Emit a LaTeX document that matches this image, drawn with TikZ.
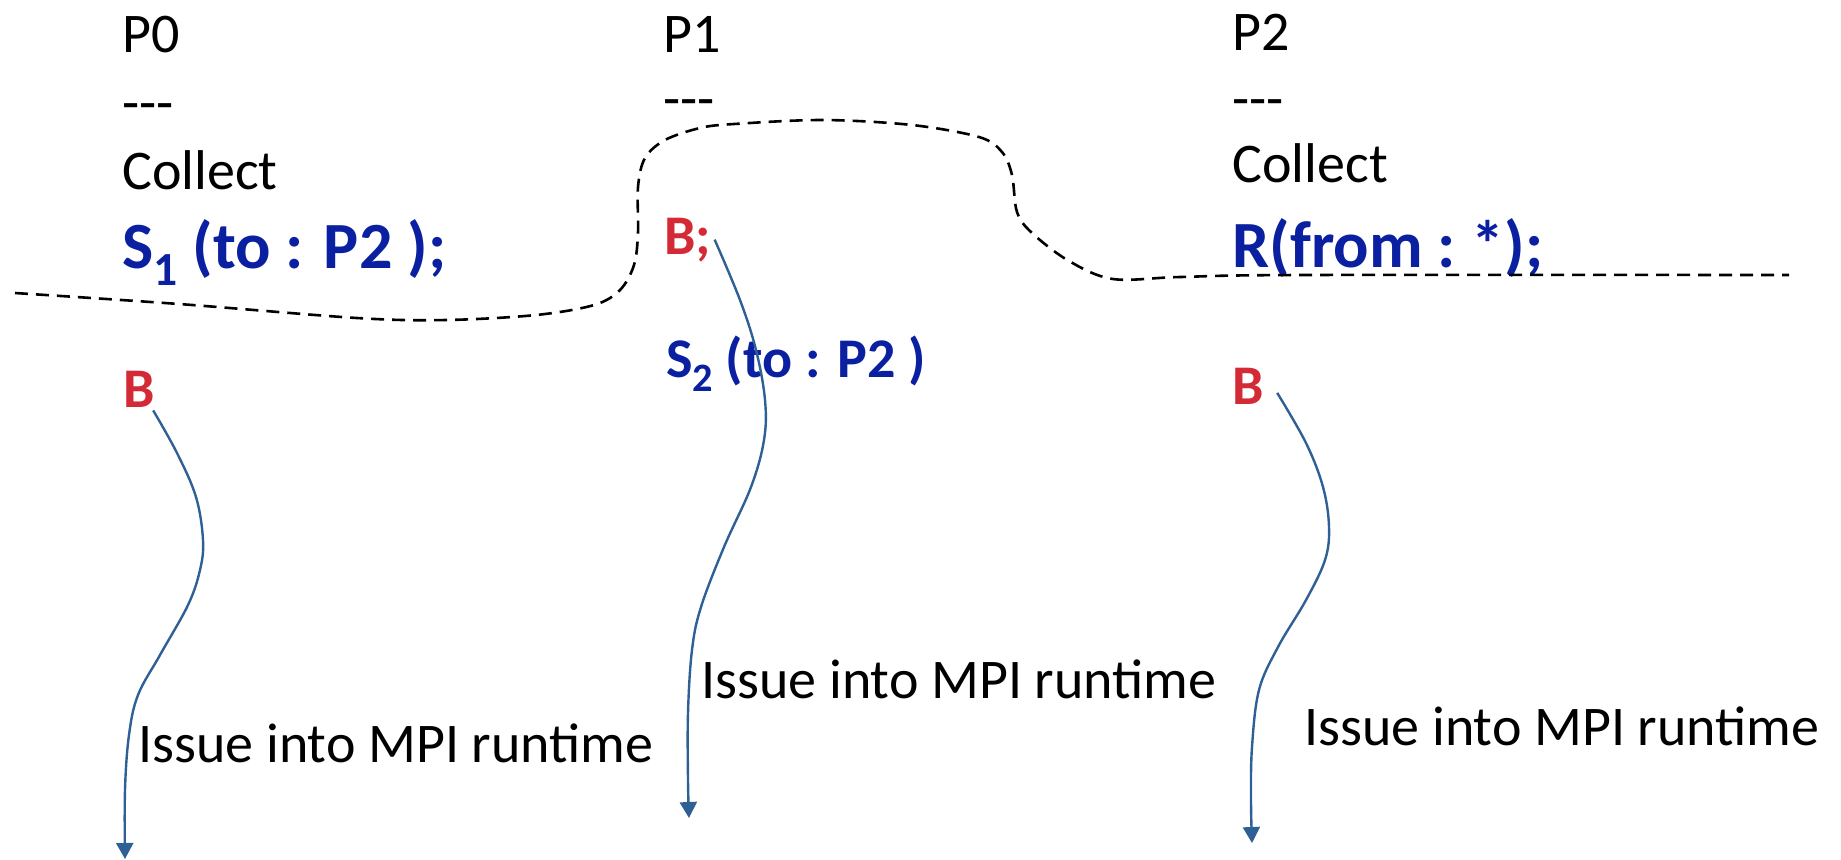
\documentclass[tikz,border=0pt]{standalone}
\usepackage{fontspec}
\setmainfont{Carlito}
\usepackage{graphicx}
\usetikzlibrary{arrows.meta}
\definecolor{codeblue}{RGB}{10,32,160}
\definecolor{barred}{RGB}{211,42,53}
\definecolor{arrblue}{RGB}{46,96,150}
\newcommand\lowsub[1]{\raisebox{-0.26em}{\scalebox{0.72}{#1}}}
\newcommand\tripledash{-\kern0pt-\kern0pt-}
\begin{document}
\begin{tikzpicture}[x=0.5pt,y=-0.5pt,
  lbl/.style={anchor=base west,inner sep=0pt,font=\fontsize{28}{34}\selectfont},
  code/.style={anchor=base west,inner sep=0pt,font=\fontsize{33}{40}\selectfont\bfseries,text=codeblue},
  codesm/.style={anchor=base west,inner sep=0pt,font=\fontsize{28}{34}\selectfont\bfseries,text=codeblue},
  bar/.style={anchor=base west,inner sep=0pt,font=\fontsize{28}{34}\selectfont\bfseries,text=barred},
  flow/.style={draw=arrblue,line width=1.2pt,-{Triangle[width=8.5pt,length=8pt]}},
  cut/.style={draw=black,line width=1.3pt,dash pattern=on 6.5pt off 4pt}]
\useasboundingbox (0,0) rectangle (1841,859);

% column P0
\node[lbl] (p0) at (122,52) {P0};
\node[lbl] (d0) at (122,121) {\tripledash};
\node[lbl] (c0) at (122,189) {Collect};
\node[code] (s1) at (122,268) {S\lowsub{1} (to : P2 );};
\node[bar] (b0) at (123,407) {B};

% column P1
\node[lbl] (p1) at (663,52) {P1};
\node[lbl] (d1) at (663,117) {\tripledash};
\node[bar] (b1) at (664,254) {B;};
\node[codesm] (s2) at (666,377) {S\lowsub{2} (to : P2 )};

% column P2
\node[lbl] (p2) at (1232,50) {P2};
\node[lbl] (d2) at (1232,117) {\tripledash};
\node[lbl] (c2) at (1232,182) {Collect};
\node[code] (r2) at (1232,267) {R(from :\kern-2pt{} *);};
\node[bar] (b2) at (1232,404) {B};

% labels
\node[lbl] (l0) at (138,762) {Issue into MPI runtime};
\node[lbl] (l1) at (701,698) {Issue into MPI runtime};
\node[lbl] (l2) at (1304,745) {Issue into MPI runtime};

% dashed cut line
\draw[cut] plot[smooth,tension=0.55] coordinates {
  (15,293) (179,304) (357,318) (446,320) (536,315) (594,305) (620,290)
  (634,265) (638,233) (638,187) (645,158) (665,140) (700,128) (734,124)
  (823,120) (912,125) (979,137) (1002,152) (1012,175) (1017,212) (1032,233)
  (1069,261) (1113,279) (1180,277) (1300,275) (1789,275)};

% arrows
\coordinate (a0) at ([shift={(-2,3)}]b0.south east);
\coordinate (a1) at ([shift={(3,0)}]b1.east);
\coordinate (a2) at ([shift={(13,7)}]b2.east);
\coordinate (e0) at (125,859);
\coordinate (e1) at (689,818);
\coordinate (e2) at (1252,843);
\draw[flow] plot[smooth,tension=0.6] coordinates {
  (a0) (177,453) (196,497) (203,540) (200,570) (188,605) (160,655) (138,695)
  (129,735) (125,790) (e0)};
\draw[flow] plot[smooth,tension=0.6] coordinates {
  (a1) (740,300) (756,350) (765,400) (764,440) (751,487) (724,547) (701,607)
  (692,650) (688,713) (688,780) (e1)};
\draw[flow] plot[smooth,tension=0.6] coordinates {
  (a2) (1306,443) (1323,487) (1329,527) (1325,560) (1306,600) (1278,647)
  (1259,690) (1252,747) (1251,800) (e2)};
\end{tikzpicture}
\end{document}
